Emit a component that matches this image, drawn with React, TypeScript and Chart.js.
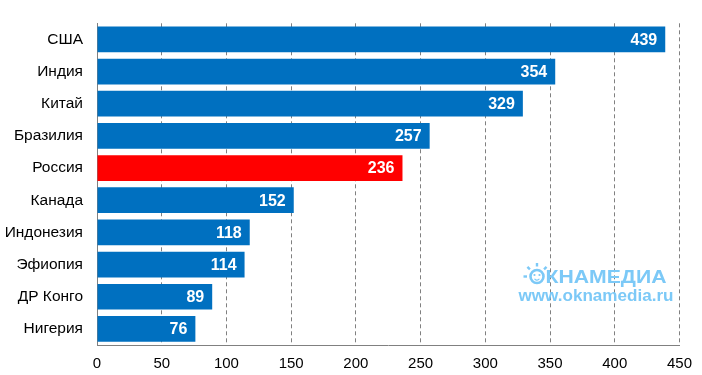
import React, { useEffect, useRef } from "react";
import { Chart, registerables } from "chart.js";

Chart.register(...registerables);

const categories = ["США", "Индия", "Китай", "Бразилия", "Россия", "Канада", "Индонезия", "Эфиопия", "ДР Конго", "Нигерия"];
const values = [439, 354, 329, 257, 236, 152, 118, 114, 89, 76];
const highlight = "Россия";
const xTicks = [0, 50, 100, 150, 200, 250, 300, 350, 400, 450];

const BLUE = "#0070C0";
const RED = "#FF0000";
const FONT = "'Liberation Sans', Arial, sans-serif";

const valueLabels = {
  id: "valueLabels",
  afterDatasetsDraw(chart: any) {
    const ctx = chart.ctx;
    const meta = chart.getDatasetMeta(0);
    ctx.save();
    ctx.fillStyle = "#ffffff";
    ctx.font = `bold 16px ${FONT}`;
    ctx.textAlign = "right";
    ctx.textBaseline = "middle";
    meta.data.forEach((bar: any, i: number) => {
      ctx.fillText(String(values[i]), bar.x - 8, bar.y + 1);
    });
    ctx.restore();
  },
};

function fitText(ctx: CanvasRenderingContext2D, text: string, x: number, y: number, w: number) {
  const m = ctx.measureText(text).width;
  ctx.save();
  ctx.translate(x, y);
  ctx.scale(w / m, 1);
  ctx.fillText(text, 0, 0);
  ctx.restore();
}

const watermark = {
  id: "watermark",
  afterDraw(chart: any) {
    const { ctx, chartArea } = chart;
    const color = "#7CC9F7";
    const R = chartArea.right;
    const B = chartArea.bottom;
    ctx.save();
    ctx.fillStyle = color;
    ctx.strokeStyle = color;
    ctx.textBaseline = "alphabetic";
    ctx.textAlign = "left";
    const cx = R - 142.5;
    const cy = B - 68.5;
    ctx.lineWidth = 2.6;
    ctx.beginPath();
    ctx.arc(cx, cy, 6.5, 0, Math.PI * 2);
    ctx.stroke();
    ctx.beginPath();
    ctx.arc(cx - 2.5, cy - 1.5, 1.1, 0, Math.PI * 2);
    ctx.arc(cx + 2.5, cy - 1.5, 1.1, 0, Math.PI * 2);
    ctx.fill();
    ctx.lineWidth = 1.2;
    ctx.beginPath();
    ctx.arc(cx, cy + 0.5, 3, 0.2 * Math.PI, 0.8 * Math.PI);
    ctx.stroke();
    ctx.lineWidth = 2.4;
    const rays = [Math.PI, -Math.PI * 0.75, -Math.PI / 2, -Math.PI * 0.25];
    rays.forEach((a) => {
      ctx.beginPath();
      ctx.moveTo(cx + Math.cos(a) * 10, cy + Math.sin(a) * 10);
      ctx.lineTo(cx + Math.cos(a) * 13.5, cy + Math.sin(a) * 13.5);
      ctx.stroke();
    });
    ctx.font = `bold 19px ${FONT}`;
    fitText(ctx, "КНАМЕДИА", R - 134, B - 62, 121);
    ctx.font = `bold 17px ${FONT}`;
    fitText(ctx, "www.oknamedia.ru", R - 161, B - 44, 155);
    ctx.restore();
  },
};

export default function App() {
  const ref = useRef<HTMLCanvasElement | null>(null);
  useEffect(() => {
    document.body.style.margin = "0";
    if (!ref.current) return;
    const chart = new Chart(ref.current, {
      type: "bar",
      data: {
        labels: categories,
        datasets: [
          {
            data: values,
            backgroundColor: categories.map((c) => (c === highlight ? RED : BLUE)),
            categoryPercentage: 1,
            barPercentage: 0.8,
          },
        ],
      },
      options: {
        indexAxis: "y",
        animation: false,
        responsive: false,
        layout: { padding: { top: 22, right: 22, bottom: 2, left: 0 } },
        plugins: { legend: { display: false }, tooltip: { enabled: false } },
        scales: {
          x: {
            min: 0,
            max: 450,
            afterBuildTicks: (axis: any) => {
              axis.ticks = xTicks.map((v) => ({ value: v }));
            },
            afterFit: (axis: any) => {
              axis.height = 28;
            },
            grid: { display: true, color: "#808080", lineWidth: 1, drawTicks: false },
            border: { display: true, color: "#808080", width: 1, dash: [4, 3] },
            ticks: { color: "#000", font: { family: FONT, size: 15 }, padding: 10 },
          },
          y: {
            afterFit: (axis: any) => {
              axis.width = 97;
            },
            grid: { display: false, drawTicks: false },
            border: { display: true, color: "#808080", width: 1 },
            ticks: { color: "#000", font: { family: FONT, size: 15.5 }, padding: 14 },
          },
        },
      },
      plugins: [valueLabels, watermark],
    } as any);
    return () => chart.destroy();
  }, []);
  return (
    <div style={{ width: 702, height: 375 }}>
      <canvas ref={ref} width={702} height={375} />
    </div>
  );
}
